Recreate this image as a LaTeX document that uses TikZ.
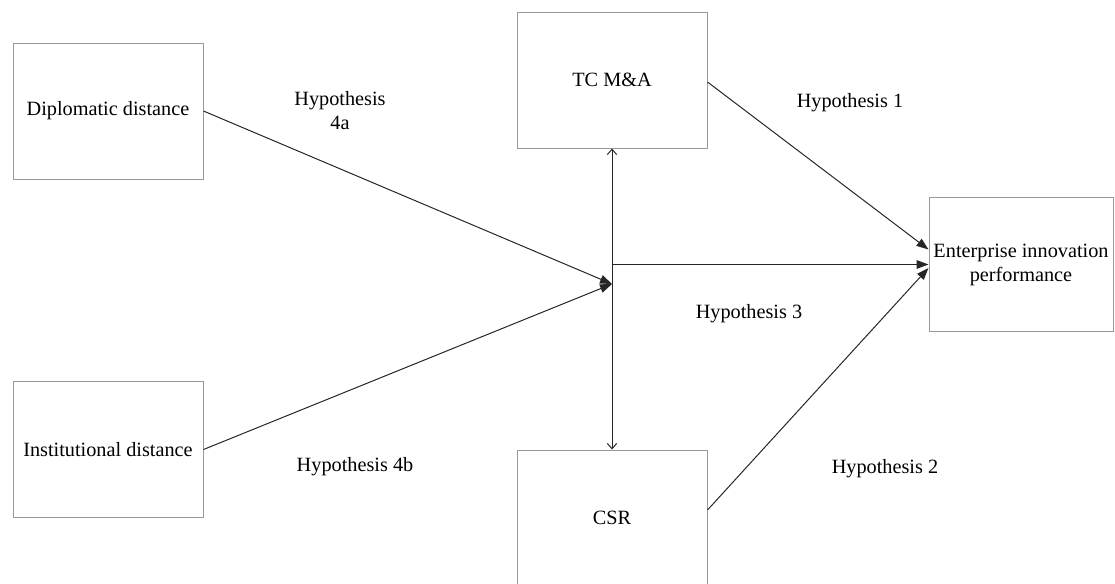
\documentclass[tikz,border=0pt]{standalone}
\usepackage{fontspec}
\setmainfont{Liberation Serif}
\usetikzlibrary{arrows.meta}

\begin{document}
\begin{tikzpicture}[
			x=0.75pt, y=-0.75pt,
			base/.style={draw=black!40, line width=0.75pt, text=black, font=\fontsize{15.2}{18}\selectfont, align=center, inner sep=0pt},
			box/.style={base, minimum width=142.5pt, minimum height=102pt},
			target/.style={base, minimum width=138pt, minimum height=101pt},
			label/.style={font=\fontsize{15.2}{18}\selectfont, align=center, inner sep=0pt},
			link/.style={draw=black!85, line width=0.75pt, -{Triangle[length=9pt,width=6.5pt]}},
			both/.style={draw=black!85, line width=0.75pt, {Straight Barb[length=4pt,width=7pt]}-{Straight Barb[length=4pt,width=7pt]}},
		]
		\useasboundingbox (0,0) rectangle (1115,583);

		\node[box] (diplomatic) at (108,111) {Diplomatic distance};
		\node[box] (institutional) at (108,449.5) {Institutional distance};
		\node[box] (tcma) at (612,80) {TC M\&A};
		\node[box] (csr) at (612,518) {CSR};
		\node[target] (innovation) at (1021,264.5) {Enterprise innovation\\performance};
		\coordinate (meet) at (612,284);

		\draw[both] (csr.north) -- (tcma.south);
		\draw[link] (tcma.south |- innovation.west) -- (innovation.west);
		\draw[link] (diplomatic.east) -- (meet);
		\draw[link] (institutional.east) -- (meet);
		\draw[link] ([yshift=-1.5pt]tcma.east) -- ([yshift=11.25pt]innovation.west);
		\draw[link] ([yshift=6pt]csr.east) -- ([yshift=-2.6pt]innovation.west);

		\node[label] (hypfoura) at (340,111) {Hypothesis\\4a};
		\node[label] (hypone) at (850,103) {Hypothesis 1};
		\node[label] (hypthree) at (749,314) {Hypothesis 3};
		\node[label] (hypfourb) at (355,467) {Hypothesis 4b};
		\node[label] (hyptwo) at (885,469) {Hypothesis 2};

		\end{tikzpicture}
\end{document}
